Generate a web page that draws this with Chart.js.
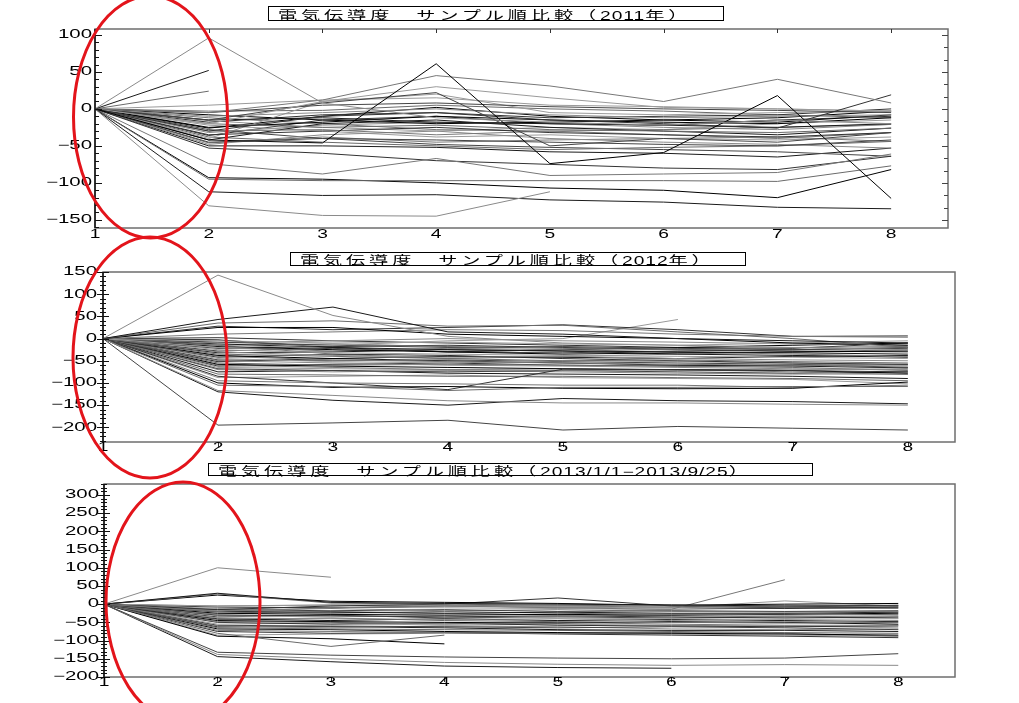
<!DOCTYPE html>
<html>
<head>
<meta charset="utf-8">
<script src="https://cdn.jsdelivr.net/npm/chart.js@4.4.1/dist/chart.umd.min.js"></script>
<style>
  html, body { margin: 0; padding: 0; background: #fff; }
  #page { position: relative; width: 1019px; height: 703px; overflow: hidden; }
  canvas { position: absolute; left: 0; top: 0; pointer-events: none; }
  .ttl { position: absolute; border: 1px solid #000; box-sizing: border-box; background: #fff; white-space: nowrap; overflow: visible; z-index: 2; }
  .ttl .in { position: absolute; left: 9px; top: 50%; transform: translateY(-50%) scaleX(1.6); transform-origin: left center; line-height: 1; }
  .jp { font: 12px "Noto Sans CJK JP", sans-serif; letter-spacing: 2.4px; }
  .num { font: 12px "Liberation Sans", Arial, sans-serif; letter-spacing: 0.6px; }
  svg { position: absolute; left: 0; top: 0; z-index: 3; }
</style>
</head>
<body>
<div id="page">
  <canvas id="c2011" width="1019" height="703"></canvas>
  <canvas id="c2012" width="1019" height="703"></canvas>
  <canvas id="c2013" width="1019" height="703"></canvas>

  <div class="ttl" style="left:268px;top:6px;width:456px;height:15px;"><span class="in"><span class="jp">電気伝導度　サンプル順比較（</span><span class="num">2011</span><span class="jp">年）</span></span></div>
  <div class="ttl" style="left:290px;top:252px;width:456px;height:14px;"><span class="in"><span class="jp">電気伝導度　サンプル順比較（</span><span class="num">2012</span><span class="jp">年）</span></span></div>
  <div class="ttl" style="left:208px;top:463px;width:605px;height:13px;"><span class="in"><span class="jp">電気伝導度　サンプル順比較（</span><span class="num">2013/1/1−2013/9/25</span><span class="jp">）</span></span></div>

  <svg width="1019" height="703">
    <ellipse cx="150.5" cy="117" rx="77" ry="121" fill="none" stroke="#e3141b" stroke-width="3"/>
    <ellipse cx="150" cy="357.5" rx="77" ry="120.5" fill="none" stroke="#e3141b" stroke-width="3"/>
    <ellipse cx="183" cy="602" rx="77" ry="120" fill="none" stroke="#e3141b" stroke-width="3"/>
  </svg>
</div>

<script>
// サンプル順 (x軸)
const xTicks = [1, 2, 3, 4, 5, 6, 7, 8];

// Y軸目盛
const yTicks2011 = [-150, -100, -50, 0, 50, 100];
const yTicks2012 = [-200, -150, -100, -50, 0, 50, 100, 150];
const yTicks2013 = [-200, -150, -100, -50, 0, 50, 100, 150, 200, 250, 300];

// 2011年 各サンプル系列
const series2011 = [
  [0, 96, 8, -12, -18, -22, -15, -20],
  [0, 52],
  [0, 24],
  [0, -42, -46, 61, -74, -59, 18, -121],
  [0, -5, 12, 45, 31, 10, 40, 8],
  [0, -30, -10, -5, -15, -20, -26, 19],
  [0, -20, 10, 30, 15, 2, 0, -3],
  [0, -15, 8, 22, -50, -40, -45, -32],
  [0, -131, -144, -145, -112],
  [0, -112, -117, -116, -123, -126, -133, -135],
  [0, -95, -97, -97, -97, -97, -98, -77],
  [0, -93, -95, -100, -107, -110, -120, -82],
  [0, -74, -88, -67, -90, -88, -86, -61],
  [0, -53, -60, -70, -75, -80, -82, -64],
  [0, 5, 12, 15, 5, 3, 0, -3],
  [0, -5, 5, 8, 3, 0, -2, -5],
  [0, -10, -5, 0, -8, -12, -10, -8],
  [0, -15, -12, -18, -20, -22, -25, -20],
  [0, -20, -25, -22, -28, -30, -32, -26],
  [0, -25, -18, -10, -15, -18, -20, -12],
  [0, -30, -28, -35, -30, -28, -25, -21],
  [0, -35, -30, -25, -32, -35, -38, -32],
  [0, -40, 10, 20, -5, -8, -5, -3],
  [0, -45, -40, -42, -45, -48, -50, -42],
  [0, -48, -35, -30, -40, -45, -48, -53],
  [0, -42, -20, -15, -25, -30, -35, -26],
  [0, -38, -45, -50, -55, -52, -50, -44],
  [0, -8, -15, -20, -18, -15, -12, -3],
  [0, -12, -20, -28, -30, -35, -40, -32],
  [0, -18, -8, -5, -12, -10, -8, 0],
  [0, -22, -30, -38, -35, -40, -42, -38],
  [0, -28, -40, -48, -52, -55, -58, -64],
  [0, -32, -22, -18, -20, -25, -28, -21],
  [0, -50, -50, -52, -58, -60, -65, -53],
  [0, -3, -2, 5, 0, -3, -8, -12],
  [0, -26, -10, 2, -10, -15, -18, -8],
  [0, -46, -38, -45, -42, -40, -38, -44],
  [0, -36, -15, -10, -20, -22, -15, -10],
  [0, -16, -25, -30, -25, -28, -20, -15]
];

// 2012年
const series2012 = [
  [0, 143, 52, 5, -10, -15, -20, -25],
  [0, 43, 71, 15, 10, 0, -5, -10],
  [0, 35, 40, 28, 30, 15, 0, -20],
  [0, 25, 25, 10, 5, 0, -10, -15],
  [0, 10, 15, 20, 18, 10, 5, 3],
  [0, 28, 20, 25, 31, 20, 5, 6],
  [0, -20, -15, -5, 0, 43],
  [0, -195, -190, -184, -206, -198, -202, -206],
  [0, -117, -128, -140, -145, -145, -148, -150],
  [0, -120, -139, -150, -135, -140, -142, -147],
  [0, -105, -108, -117, -110, -110, -108, -108],
  [0, -100, -110, -108, -112, -113, -112, -98],
  [0, -95, -100, -102, -105, -105, -110, -105],
  [0, -85, -100, -115, -69, -70, -72, -75],
  [0, -5, -10, -8, -12, -15, -10, -5],
  [0, -8, -15, -20, -18, -22, -25, -20],
  [0, -10, -5, 0, -5, -8, -12, -15],
  [0, -12, -20, -25, -28, -30, -32, -35],
  [0, -15, -12, -18, -22, -25, -20, -18],
  [0, -18, -25, -30, -35, -32, -30, -28],
  [0, -20, -28, -22, -25, -30, -35, -40],
  [0, -22, -18, -15, -20, -25, -28, -30],
  [0, -25, -32, -35, -38, -40, -42, -45],
  [0, -28, -22, -30, -32, -28, -25, -22],
  [0, -30, -38, -42, -40, -45, -48, -50],
  [0, -32, -30, -25, -28, -35, -38, -42],
  [0, -35, -40, -45, -50, -48, -52, -55],
  [0, -38, -45, -40, -42, -45, -40, -38],
  [0, -40, -48, -52, -55, -58, -60, -62],
  [0, -42, -35, -38, -45, -50, -55, -58],
  [0, -45, -52, -55, -50, -52, -55, -60],
  [0, -48, -50, -48, -52, -55, -58, -65],
  [0, -50, -55, -60, -62, -65, -68, -70],
  [0, -52, -45, -50, -55, -60, -62, -66],
  [0, -55, -60, -58, -60, -62, -65, -72],
  [0, -58, -62, -65, -68, -70, -72, -78],
  [0, -60, -65, -70, -72, -70, -75, -81],
  [0, -62, -58, -55, -60, -62, -60, -58],
  [0, -65, -68, -70, -68, -72, -70, -68],
  [0, -68, -72, -75, -72, -75, -78, -75],
  [0, -70, -75, -72, -75, -78, -80, -80],
  [0, -75, -72, -78, -80, -82, -85, -90],
  [0, -80, -82, -85, -85, -88, -90, -95],
  [0, -3, -20, -30, -25, -20, -15, -10],
  [0, -15, -35, -45, -40, -35, -30, -25],
  [0, 2, -5, -10, -15, -20, -22, -10],
  [0, -88, -85, -82, -88, -90, -92, -102]
];

// 2013/1/1-2013/9/25
const series2013 = [
  [0, 100, 74],
  [0, 30, 5, 2, 0, -2, -5, -5],
  [0, 28, 3, 0, -3, -5, -8, -3],
  [0, 25, 8, 5, 2, -3, 0, 2],
  [0, -20, -10, -5, -10, -14, 67],
  [0, -15, -5, 0, 17, -5, -10, -10],
  [0, -5, -3, -5, -8, -10, 9, -5],
  [0, -132, -140, -145, -148, -150, -148, -136],
  [0, -138, -150, -160, -165, -168, -166, -168],
  [0, -144, -158, -170, -174, -176],
  [0, -80, -116, -85],
  [0, -88, -95, -109],
  [0, -5, -2, -3, -5, -8, -5, -3],
  [0, -8, -10, -5, -8, -10, -12, -8],
  [0, -12, -8, -10, -12, -15, -10, -12],
  [0, -15, -18, -15, -20, -18, -20, -18],
  [0, -18, -12, -18, -15, -20, -22, -20],
  [0, -20, -22, -25, -22, -25, -25, -22],
  [0, -22, -25, -20, -25, -28, -30, -28],
  [0, -25, -28, -30, -28, -30, -28, -25],
  [0, -28, -20, -25, -30, -32, -35, -32],
  [0, -30, -32, -35, -32, -35, -38, -35],
  [0, -32, -35, -32, -38, -40, -42, -40],
  [0, -35, -30, -38, -35, -38, -35, -38],
  [0, -38, -40, -42, -40, -45, -48, -45],
  [0, -40, -45, -40, -45, -42, -45, -48],
  [0, -42, -38, -45, -48, -50, -52, -50],
  [0, -45, -48, -50, -52, -48, -50, -55],
  [0, -48, -50, -55, -50, -55, -58, -58],
  [0, -50, -55, -52, -58, -60, -62, -60],
  [0, -55, -52, -58, -55, -58, -60, -65],
  [0, -58, -60, -62, -65, -62, -65, -70],
  [0, -60, -65, -60, -62, -68, -70, -68],
  [0, -62, -62, -65, -70, -72, -72, -75],
  [0, -65, -68, -70, -72, -75, -78, -80],
  [0, -68, -70, -75, -78, -80, -82, -85],
  [0, -72, -75, -78, -80, -78, -80, -88],
  [0, -75, -80, -78, -82, -85, -88, -92],
  [0, -85, -82, -80, -80, -82, -85, -88]
];

// 線の色 (黒～灰色)
const lineColors = ['#8a8a8a', '#1a1a1a', '#6a6a6a', '#000000', '#777777', '#333333', '#9a9a9a', '#444444'];

const labelFont = '12px "Liberation Sans", Arial, sans-serif';

function fmt(v) {
  return v < 0 ? '\u2212' + Math.abs(v) : String(v);
}

function seg(ctx, x1, y1, x2, y2) {
  ctx.beginPath();
  ctx.moveTo(x1, y1);
  ctx.lineTo(x2, y2);
  ctx.stroke();
}

// 枠・目盛・ラベル描画
const deco = {
  id: 'deco',
  afterDraw(chart, args, o) {
    const ctx = chart.ctx;
    const a = chart.chartArea;
    const x = chart.scales.x, y = chart.scales.y;
    ctx.save();

    // 枠
    ctx.strokeStyle = '#6e6e6e';
    ctx.lineWidth = 1.5;
    ctx.strokeRect(a.left, a.top, a.right - a.left, a.bottom - a.top);
    ctx.strokeStyle = '#111';
    seg(ctx, a.left, a.top, a.left, a.bottom);

    // 左軸目盛
    ctx.lineWidth = 1;
    ctx.strokeStyle = '#111';
    const k0 = Math.ceil(y.min / o.minor), k1 = Math.floor(y.max / o.minor);
    for (let k = k0; k <= k1; k++) {
      const v = k * o.minor;
      const py = Math.round(y.getPixelForValue(v)) + 0.5;
      const major = Math.abs(v % 50) < 1e-6;
      const len = major ? o.majorLen : o.minorLen;
      if (o.both) seg(ctx, a.left - len, py, a.left + len, py);
      else seg(ctx, a.left, py, a.left + len, py);
    }

    // 右軸目盛
    if (o.rightStep) {
      ctx.strokeStyle = '#444';
      const r0 = Math.ceil(y.min / o.rightStep), r1 = Math.floor(y.max / o.rightStep);
      for (let k = r0; k <= r1; k++) {
        const py = Math.round(y.getPixelForValue(k * o.rightStep)) + 0.5;
        const len = (k % 3 === 0) ? 6 : 4;
        seg(ctx, a.right - len, py, a.right, py);
      }
    }

    // x目盛
    ctx.strokeStyle = '#333';
    x.ticks.forEach(t => {
      const px = Math.round(x.getPixelForValue(t.value)) + 0.5;
      if (o.topTicks) seg(ctx, px, a.top, px, a.top + 4);
      if (o.bottomTicks) seg(ctx, px, a.bottom, px, a.bottom + 5);
    });

    // ラベル (横長)
    ctx.fillStyle = '#000';
    ctx.font = labelFont;
    ctx.textBaseline = 'middle';
    y.ticks.forEach(t => {
      const py = y.getPixelForValue(t.value);
      ctx.save();
      ctx.translate(a.left - o.yPad, py);
      ctx.scale(1.7, 1);
      ctx.textAlign = 'right';
      ctx.fillText(fmt(t.value), 0, 0);
      ctx.restore();
    });
    x.ticks.forEach(t => {
      const px = x.getPixelForValue(t.value);
      ctx.save();
      ctx.translate(px, a.bottom + o.xPad);
      ctx.scale(1.6, 1);
      ctx.textAlign = 'center';
      ctx.fillText(String(t.value), 0, 0);
      ctx.restore();
    });

    ctx.restore();
  }
};

function makeDatasets(series) {
  return series.map((vals, i) => ({
    data: vals.map((v, j) => ({ x: xTicks[j], y: v })),
    borderColor: lineColors[i % lineColors.length],
    borderWidth: 1,
    pointRadius: 0,
    tension: 0,
    fill: false
  }));
}

function makeChart(id, series, yTicks, box, deco_opts) {
  return new Chart(document.getElementById(id), {
    type: 'line',
    data: { datasets: makeDatasets(series) },
    options: {
      responsive: false,
      animation: false,
      events: [],
      layout: {
        autoPadding: false,
        padding: { left: 0, top: box.top, right: 1019 - box.right, bottom: 703 - box.bottom - 20 }
      },
      plugins: {
        legend: { display: false },
        tooltip: { enabled: false },
        deco: deco_opts
      },
      scales: {
        x: {
          type: 'linear',
          min: 1,
          max: box.xMax,
          afterBuildTicks: s => { s.ticks = xTicks.map(v => ({ value: v })); },
          afterFit: s => { s.height = 20; },
          grid: { display: false },
          border: { display: false },
          ticks: { display: false }
        },
        y: {
          min: box.yMin,
          max: box.yMax,
          afterBuildTicks: s => { s.ticks = yTicks.map(v => ({ value: v })); },
          afterFit: s => { s.width = box.left; },
          grid: { display: false },
          border: { display: false },
          ticks: { display: false }
        }
      }
    },
    plugins: [deco]
  });
}

makeChart('c2011', series2011, yTicks2011,
  { left: 95, top: 29, right: 948, bottom: 228, xMax: 8.5, yMin: -161, yMax: 108 },
  { minor: 10, majorLen: 7, minorLen: 4, both: false, rightStep: 50 / 3, topTicks: true, bottomTicks: false, yPad: 3, xPad: 7 });

makeChart('c2012', series2012, yTicks2012,
  { left: 103, top: 272, right: 955, bottom: 442, xMax: 8.41, yMin: -233, yMax: 150 },
  { minor: 10, majorLen: 6, minorLen: 3, both: true, rightStep: 0, topTicks: false, bottomTicks: true, yPad: 6, xPad: 6 });

makeChart('c2013', series2013, yTicks2013,
  { left: 104, top: 484, right: 955, bottom: 677, xMax: 8.5, yMin: -200, yMax: 330 },
  { minor: 10, majorLen: 6, minorLen: 3, both: true, rightStep: 0, topTicks: false, bottomTicks: true, yPad: 5, xPad: 6 });
</script>
</body>
</html>
